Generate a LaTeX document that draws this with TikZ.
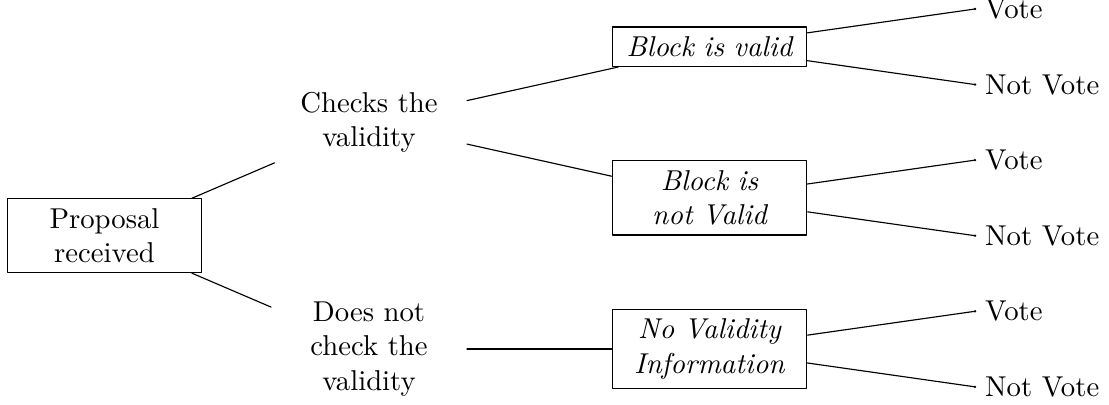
\documentclass[tikz,border=0pt]{standalone}
\begin{document}
\begin{tikzpicture}[line cap=round,line join=round,
  box/.style={draw,text width=2.15cm,align=center,font=\itshape},
  txt/.style={text width=2.15cm,align=center}]

% parameters
\def\xa{1.279}      % root column
\def\xb{4.517}      % decision column
\def\xc{8.684}      % outcome boxes
\def\xd{11.934}     % leaf ends
\def\gap{0.925}     % leaf spacing
\def\dotr{0.45pt}   % end-dot radius

\useasboundingbox (0,0) rectangle (13.574,-4.945);

% outcome boxes
\node[box] (valid)   at (\xc,{-0.110-0.5*\gap}) {Block is valid};
\node[box] (invalid) at (\xc,{-0.110-2.5*\gap}) {Block is not Valid};
\node[box] (noinfo)  at (\xc,{-0.110-4.5*\gap}) {No Validity Information};

% decisions
\node[txt] (chk)   at (\xb,{-0.110-1.5*\gap}) {Checks the validity};
\node[txt] (nochk) at (\xb,{-0.110-4.5*\gap}) {Does not check the validity};

% root
\node[box,font=\upshape] (prop) at (\xa,{-0.110-3*\gap}) {Proposal received};

\draw (prop) -- (chk);
\draw (prop) -- (nochk);
\draw (chk) -- (valid);
\draw (chk) -- (invalid);
\draw (nochk) -- (noinfo);

% leaves + end dots
\foreach \i/\p/\t in {0/valid/Vote,1/valid/Not Vote,2/invalid/Vote,
                      3/invalid/Not Vote,4/noinfo/Vote,5/noinfo/Not Vote}{
  \coordinate (leaf\i) at (\xd,{-0.110-\i*\gap});
  \draw (\p) -- (leaf\i);
  \fill (leaf\i) circle (\dotr);
  \node[anchor=west] (lab\i) at (leaf\i) {\t};
}

\end{tikzpicture}
\end{document}
